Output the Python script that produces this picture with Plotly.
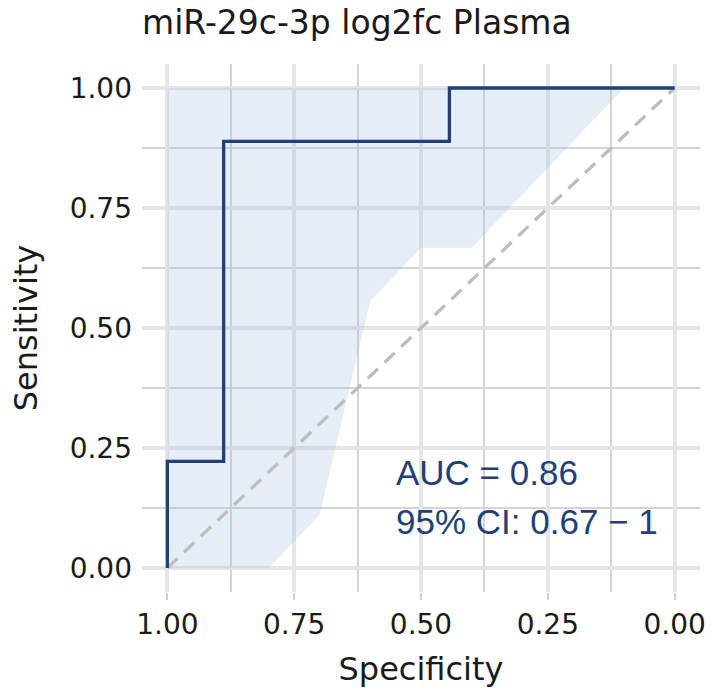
import plotly.graph_objects as go

# ROC curve (specificity, sensitivity)
roc_spec = [1.0, 1.0, 0.889, 0.889, 0.444, 0.444, 0.0]
roc_sens = [0.0, 0.222, 0.222, 0.889, 0.889, 1.0, 1.0]

# Confidence band of sensitivity at given specificities
ci_spec = [1.0, 0.9, 0.8, 0.7, 0.6, 0.5, 0.4, 0.3, 0.2, 0.1]
ci_lower = [0.0, 0.0, 0.0, 0.111, 0.556, 0.667, 0.667, 0.778, 0.889, 1.0]
ci_upper = [1.0, 1.0, 1.0, 1.0, 1.0, 1.0, 1.0, 1.0, 1.0, 1.0]

# chance diagonal
diag_spec = [1.0, 0.0]
diag_sens = [0.0, 1.0]

tick_vals = [0.0, 0.25, 0.5, 0.75, 1.0]
tick_text = ["0.00", "0.25", "0.50", "0.75", "1.00"]

auc_text = "AUC = 0.86"
ci_text = "95% CI: 0.67 \u2212 1"

navy = "#213f78"
font_main = "DejaVu Sans"

fig = go.Figure()

# band: upper then lower reversed
fig.add_trace(go.Scatter(
    x=ci_spec + ci_spec[::-1],
    y=ci_upper + ci_lower[::-1],
    fill="toself", fillcolor="rgba(150,182,222,0.25)",
    line=dict(width=0), mode="lines", hoverinfo="skip", showlegend=False))

fig.add_trace(go.Scatter(
    x=diag_spec, y=diag_sens, mode="lines",
    line=dict(color="#bdbdbd", width=3.3, dash="14px,9px"), showlegend=False))

fig.add_trace(go.Scatter(
    x=roc_spec, y=roc_sens, mode="lines",
    line=dict(color=navy, width=3.3, shape="linear"), showlegend=False))

fig.add_annotation(x=0.553, y=0.198, xref="x", yref="y", text=auc_text,
                   showarrow=False, xanchor="left", yanchor="middle",
                   font=dict(family="Liberation Sans", size=35, color=navy))
fig.add_annotation(x=0.553, y=0.096, xref="x", yref="y", text=ci_text,
                   showarrow=False, xanchor="left", yanchor="middle",
                   font=dict(family="Liberation Sans", size=35, color=navy))

grid_major = "#e6e6e6"
grid_minor = "#d4d4d4"

fig.update_xaxes(
    range=[1.05, -0.05], tickvals=tick_vals, ticktext=tick_text,
    showgrid=True, gridcolor=grid_major, gridwidth=3.5,
    minor=dict(dtick=0.125, tick0=0, showgrid=True, gridcolor=grid_minor, gridwidth=1.8),
    ticks="outside", ticklen=7, tickcolor="#d0d0d0", tickwidth=1.5,
    zeroline=False, showline=False, automargin=False,
    tickfont=dict(family=font_main, size=28, color="#1a1a1a"),
    title=dict(text="Specificity", font=dict(family=font_main, size=32, color="#1a1a1a"), standoff=18),
)
fig.update_yaxes(
    range=[-0.05, 1.05], tickvals=tick_vals, ticktext=tick_text,
    showgrid=True, gridcolor=grid_major, gridwidth=3.5,
    minor=dict(dtick=0.125, tick0=0, showgrid=True, gridcolor=grid_minor, gridwidth=1.8),
    ticks="", zeroline=False, showline=False, ticklabelstandoff=9, automargin=False,
    tickfont=dict(family=font_main, size=28, color="#1a1a1a"),
    title=dict(text="Sensitivity", font=dict(family=font_main, size=32, color="#1a1a1a"), standoff=22),
)

fig.update_layout(
    width=712, height=692,
    margin=dict(l=142, r=12, t=64, b=100),
    paper_bgcolor="white", plot_bgcolor="white",
    title=dict(text="miR-29c-3p log2fc Plasma", x=0, xanchor="left",
               xref="paper", y=1 - 22/692, yanchor="middle", yref="container",
               font=dict(family=font_main, size=33, color="#1a1a1a")),
)

fig.write_html("out.html")
